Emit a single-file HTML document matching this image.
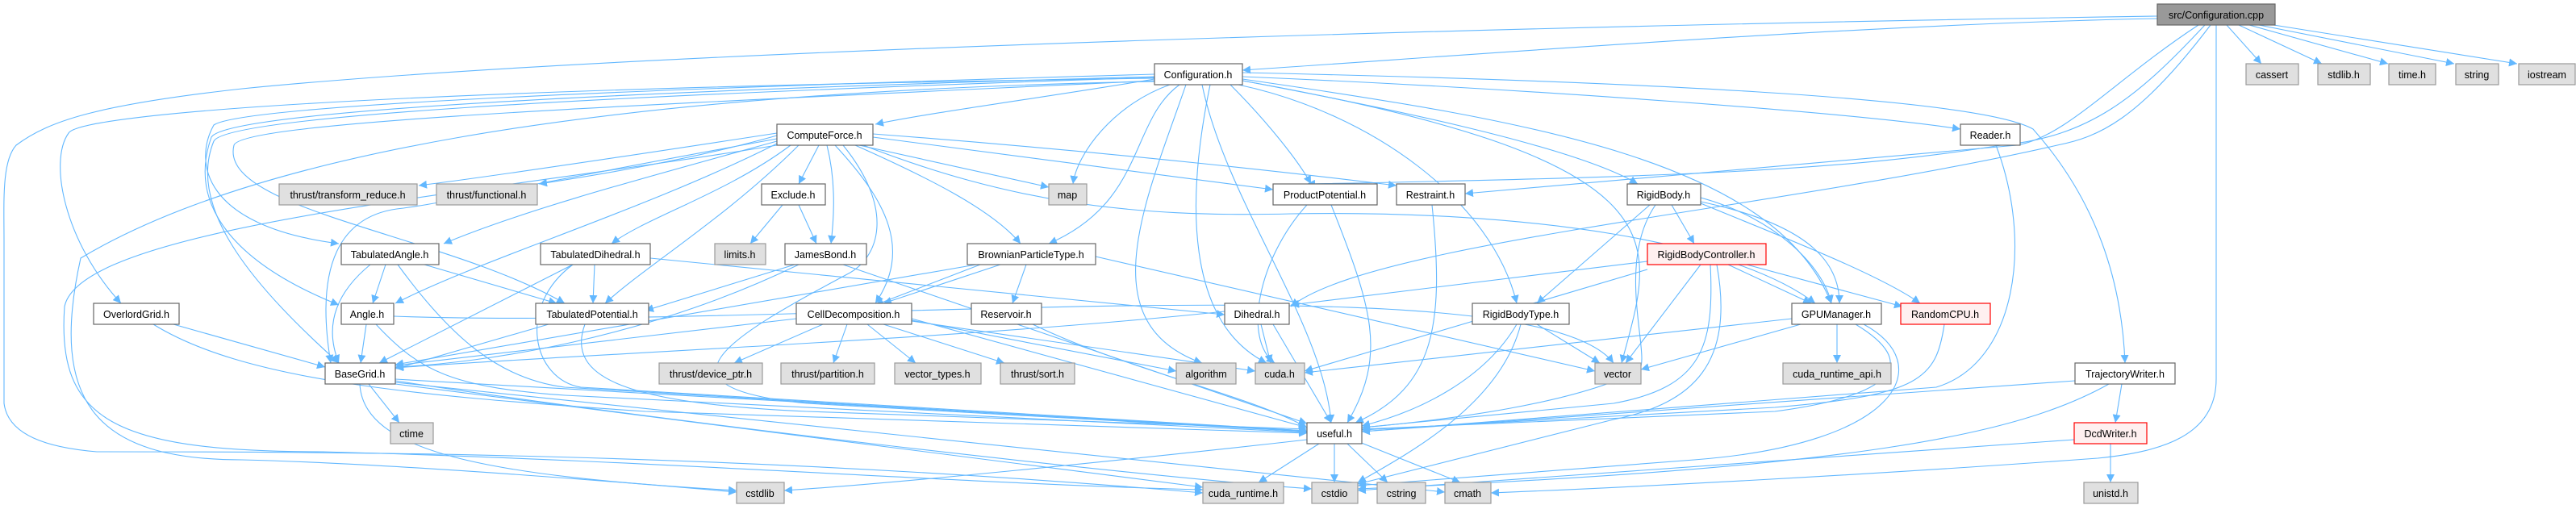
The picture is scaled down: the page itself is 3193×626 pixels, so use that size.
<!DOCTYPE html>
<html><head><meta charset="utf-8"><style>
html,body{margin:0;padding:0;background:#fff;}
svg{display:block;}
text{font-family:"Liberation Sans",sans-serif;font-size:12.5px;fill:#000;text-anchor:middle;}
.e path,path.e{fill:none;stroke:#63b8ff;stroke-width:1.1;}
.n{fill:#fff;stroke:#666;stroke-width:1.2;}
.g{fill:#e0e0e0;stroke:#999;stroke-width:1.2;}
.r{fill:#fff0f0;stroke:#ff0000;stroke-width:1.2;}
.c{fill:#999;stroke:#666;stroke-width:1.2;}
</style></head><body>
<svg width="3193" height="626" viewBox="0 0 3193 626" xmlns="http://www.w3.org/2000/svg">
<defs><marker id="a" viewBox="0 0 10 10" refX="10" refY="5" markerWidth="10" markerHeight="10" markerUnits="userSpaceOnUse" orient="auto"><path d="M0,0 L10,5 L0,10 z" fill="#63b8ff"/></marker></defs>
<g class="e" marker-end="url(#a)">
<!-- cpp -->
<path marker-end="url(#a)" d="M2760,31 L2803,79"/>
<path marker-end="url(#a)" d="M2775,31 L2878,79"/>
<path marker-end="url(#a)" d="M2788,31 L2960,79"/>
<path marker-end="url(#a)" d="M2800,31 L3042,79"/>
<path marker-end="url(#a)" d="M2812,30 L3120,79"/>
<path marker-end="url(#a)" d="M2674,23 C2300,30 1800,70 1540,87"/>
<path marker-end="url(#a)" d="M2747,31 L2747,470 C2747,540 2680,560 2600,568 C2300,590 2000,605 1848,611"/>
<path marker-end="url(#a)" d="M2725,31 C2620,100 2560,170 2500,180 L1816,240"/>
<path marker-end="url(#a)" d="M2733,31 C2650,120 2590,170 2480,180 C2300,210 2080,220 1620,228"/>
<path marker-end="url(#a)" d="M2740,31 C2650,150 2600,170 2550,180 C2200,260 1700,300 1600,380"/>
<path marker-end="url(#a)" d="M2674,20 C2000,30 800,60 300,110 C120,130 60,150 20,180 C2,200 5,250 5,300 L5,500 C10,540 60,555 120,560 C400,560 900,560 1491,611"/>
<!-- Configuration.h -->
<path marker-end="url(#a)" d="M1431,98 C1300,120 1150,140 1085,154"/>
<path marker-end="url(#a)" d="M1450,105 C1380,130 1335,190 1330,228"/>
<path marker-end="url(#a)" d="M1462,105 C1400,150 1420,250 1300,302"/>
<path marker-end="url(#a)" d="M1500,105 C1470,250 1470,400 1570,450"/>
<path marker-end="url(#a)" d="M1470,105 C1420,250 1350,400 1490,450"/>
<path marker-end="url(#a)" d="M1490,105 C1520,250 1640,400 1650,524"/>
<path marker-end="url(#a)" d="M1525,105 C1570,150 1610,200 1625,228"/>
<path marker-end="url(#a)" d="M1540,100 C1700,130 1950,180 2030,228"/>
<path marker-end="url(#a)" d="M1535,105 C1700,140 1850,250 1880,376"/>
<path marker-end="url(#a)" d="M1540,98 C1900,150 2200,200 2270,376"/>
<path marker-end="url(#a)" d="M1540,95 C1900,110 2300,140 2430,160"/>
<path marker-end="url(#a)" d="M1540,90 C2000,100 2450,120 2520,160 C2600,250 2630,350 2634,450"/>
<path marker-end="url(#a)" d="M1540,100 C2100,200 2050,300 2010,450"/>
<path marker-end="url(#a)" d="M1431,92 C800,110 300,130 265,155 C240,200 250,280 420,302"/>
<path marker-end="url(#a)" d="M1431,95 C700,115 280,140 262,170 C230,260 300,330 420,378"/>
<path marker-end="url(#a)" d="M1431,96 C700,120 280,145 265,175 C230,260 320,360 420,450"/>
<path marker-end="url(#a)" d="M1431,97 C500,110 100,140 85,165 C60,200 80,300 150,376"/>
<path marker-end="url(#a)" d="M1431,100 C800,130 300,150 290,180 C270,260 550,290 700,376"/>
<path marker-end="url(#a)" d="M1431,101 C700,115 300,200 100,320 C60,500 120,570 300,570 C500,575 800,600 913,610"/>
<!-- ComputeForce -->
<path marker-end="url(#a)" d="M963,165 C800,190 600,220 519,230"/>
<path marker-end="url(#a)" d="M963,168 C850,200 720,220 668,228"/>
<path marker-end="url(#a)" d="M1015,180 L990,228"/>
<path marker-end="url(#a)" d="M1025,180 C1035,220 1035,260 1030,302"/>
<path marker-end="url(#a)" d="M1065,180 L1300,232"/>
<path marker-end="url(#a)" d="M1082,170 L1578,235"/>
<path marker-end="url(#a)" d="M1082,166 C1400,190 1650,220 1731,230"/>
<path marker-end="url(#a)" d="M1060,180 C1150,220 1230,260 1265,302"/>
<path marker-end="url(#a)" d="M1035,180 C1100,250 1130,310 1085,376"/>
<path marker-end="url(#a)" d="M963,175 C800,220 650,260 550,302"/>
<path marker-end="url(#a)" d="M980,180 C900,240 800,270 758,302"/>
<path marker-end="url(#a)" d="M990,180 C900,270 800,330 750,376"/>
<path marker-end="url(#a)" d="M963,178 C800,260 600,320 490,376"/>
<path marker-end="url(#a)" d="M963,172 C700,220 560,250 500,258 C420,265 390,330 410,450"/>
<path marker-end="url(#a)" d="M1045,180 C1110,260 1090,320 1050,340 C900,420 800,480 1000,500 C1300,515 1500,530 1620,535"/>
<path marker-end="url(#a)" d="M1070,180 C1250,250 1400,270 1600,265 C1900,260 2150,300 2250,376"/>
<path marker-end="url(#a)" d="M963,180 C600,240 100,280 80,380 C70,520 140,560 400,560 C800,570 1200,600 1491,607"/>
<!-- row 3/4 -->
<path marker-end="url(#a)" d="M970,254 L930,302"/>
<path marker-end="url(#a)" d="M990,254 L1012,302"/>
<path marker-end="url(#a)" d="M478,328 L462,376"/>
<path marker-end="url(#a)" d="M459,328 C420,360 400,400 420,450"/>
<path marker-end="url(#a)" d="M526,328 L690,376"/>
<path marker-end="url(#a)" d="M493,328 C560,420 620,470 700,480 L1620,535"/>
<path marker-end="url(#a)" d="M737,328 L735,376"/>
<path marker-end="url(#a)" d="M710,328 L470,450"/>
<path marker-end="url(#a)" d="M710,328 C640,380 660,470 720,480 L1620,534"/>
<path marker-end="url(#a)" d="M806,320 L1518,390"/>
<path marker-end="url(#a)" d="M985,328 L800,385"/>
<path marker-end="url(#a)" d="M990,328 C800,420 600,450 490,455"/>
<path marker-end="url(#a)" d="M1045,328 L1620,525"/>
<path marker-end="url(#a)" d="M1240,328 L1095,376"/>
<path marker-end="url(#a)" d="M1215,328 L1085,378"/>
<path marker-end="url(#a)" d="M1272,328 L1255,376"/>
<path marker-end="url(#a)" d="M1358,318 L1977,460"/>
<path marker-end="url(#a)" d="M1210,328 L490,452"/>
<path marker-end="url(#a)" d="M1650,254 C1700,380 1720,440 1670,524"/>
<path marker-end="url(#a)" d="M1620,254 C1560,320 1540,420 1580,450"/>
<path marker-end="url(#a)" d="M1775,254 C1790,400 1780,480 1680,524"/>
<path marker-end="url(#a)" d="M2072,254 L2100,302"/>
<path marker-end="url(#a)" d="M2045,254 L1905,376"/>
<path marker-end="url(#a)" d="M2052,254 C2000,330 2050,450 2030,460 C1950,500 1800,520 1688,530"/>
<path marker-end="url(#a)" d="M2108,245 C2200,270 2260,330 2270,376"/>
<path marker-end="url(#a)" d="M2108,250 C2250,280 2280,330 2280,376"/>
<path marker-end="url(#a)" d="M2108,252 C2200,290 2330,340 2380,376"/>
<path marker-end="url(#a)" d="M2142,328 L2245,376"/>
<path marker-end="url(#a)" d="M2165,328 L2358,380"/>
<path marker-end="url(#a)" d="M2108,328 L2015,450"/>
<path marker-end="url(#a)" d="M2120,328 C2125,430 2110,480 2000,500 L1688,530"/>
<path marker-end="url(#a)" d="M2128,328 C2150,450 2100,500 2000,520 L1683,600"/>
<path marker-end="url(#a)" d="M2042,334 L1617,460"/>
<path marker-end="url(#a)" d="M2042,324 L1600,378"/>
<!-- row 5 -->
<path marker-end="url(#a)" d="M454,402 L447,450"/>
<path marker-end="url(#a)" d="M466,402 C520,460 560,480 700,490 L1620,536"/>
<path marker-end="url(#a)" d="M488,392 C1000,410 1900,320 2000,450"/>
<path marker-end="url(#a)" d="M215,402 L403,455"/>
<path marker-end="url(#a)" d="M190,402 C300,470 500,490 800,510 L1620,537"/>
<path marker-end="url(#a)" d="M680,402 L490,457"/>
<path marker-end="url(#a)" d="M725,402 C700,470 780,500 1000,510 L1620,532"/>
<path marker-end="url(#a)" d="M1020,402 L910,450"/>
<path marker-end="url(#a)" d="M1050,402 L1033,450"/>
<path marker-end="url(#a)" d="M1075,402 L1135,450"/>
<path marker-end="url(#a)" d="M1095,402 L1245,450"/>
<path marker-end="url(#a)" d="M1130,395 L1620,530"/>
<path marker-end="url(#a)" d="M1130,398 L1556,460"/>
<path marker-end="url(#a)" d="M1130,397 L1458,460"/>
<path marker-end="url(#a)" d="M987,395 L490,453"/>
<path marker-end="url(#a)" d="M1280,402 C1400,460 1550,490 1620,530"/>
<path marker-end="url(#a)" d="M1563,402 L1575,450"/>
<path marker-end="url(#a)" d="M1578,402 L1650,524"/>
<path marker-end="url(#a)" d="M1518,386 C1200,420 700,440 490,456"/>
<path marker-end="url(#a)" d="M1905,402 L1983,450"/>
<path marker-end="url(#a)" d="M1880,402 C1840,470 1760,510 1688,528"/>
<path marker-end="url(#a)" d="M1885,402 C1860,500 1750,560 1683,598"/>
<path marker-end="url(#a)" d="M2277,402 L2277,450"/>
<path marker-end="url(#a)" d="M2232,402 L2034,458"/>
<path marker-end="url(#a)" d="M2221,395 L1617,462"/>
<path marker-end="url(#a)" d="M2300,402 C2380,450 2350,490 2200,510 L1688,532"/>
<path marker-end="url(#a)" d="M2310,402 C2400,450 2360,550 2100,570 L1683,602"/>
<path marker-end="url(#a)" d="M2410,402 C2400,470 2380,490 2200,505 L1688,533"/>
<path marker-end="url(#a)" d="M2474,180 C2520,300 2500,450 2400,480 L1688,535"/>
<!-- row 6/7 -->
<path marker-end="url(#a)" d="M457,476 L495,524"/>
<path marker-end="url(#a)" d="M490,470 L1620,534"/>
<path marker-end="url(#a)" d="M490,472 C800,520 1400,590 1626,606"/>
<path marker-end="url(#a)" d="M490,474 L1791,610"/>
<path marker-end="url(#a)" d="M446,476 C450,560 600,590 913,608"/>
<path marker-end="url(#a)" d="M490,476 L1491,604"/>
<path marker-end="url(#a)" d="M2630,476 L2622,524"/>
<path marker-end="url(#a)" d="M2572,472 L1688,535"/>
<path marker-end="url(#a)" d="M2614,476 C2500,540 2300,580 1683,606"/>
<path marker-end="url(#a)" d="M2616,550 L2616,598"/>
<path marker-end="url(#a)" d="M2571,545 L1683,608"/>
<path marker-end="url(#a)" d="M1654,550 L1654,598"/>
<path marker-end="url(#a)" d="M1670,550 L1720,598"/>
<path marker-end="url(#a)" d="M1685,548 L1810,598"/>
<path marker-end="url(#a)" d="M1620,545 C1400,570 1100,600 972,608"/>
<path marker-end="url(#a)" d="M1635,550 L1560,598"/>
</g>
<!-- nodes -->
<g>
<rect class="c" x="2674" y="5" width="146" height="26"/><text x="2747" y="23">src/Configuration.cpp</text>
<rect class="g" x="2784" y="79" width="65" height="26"/><text x="2816" y="97">cassert</text>
<rect class="g" x="2873" y="79" width="65" height="26"/><text x="2905" y="97">stdlib.h</text>
<rect class="g" x="2961" y="79" width="58" height="26"/><text x="2990" y="97">time.h</text>
<rect class="g" x="3044" y="79" width="53" height="26"/><text x="3070" y="97">string</text>
<rect class="g" x="3122" y="79" width="70" height="26"/><text x="3157" y="97">iostream</text>
<rect class="n" x="1431" y="79" width="109" height="26"/><text x="1485" y="97">Configuration.h</text>
<rect class="n" x="963" y="154" width="119" height="26"/><text x="1022" y="172">ComputeForce.h</text>
<rect class="n" x="2430" y="154" width="74" height="26"/><text x="2467" y="172">Reader.h</text>
<rect class="g" x="346" y="228" width="171" height="26"/><text x="431" y="246">thrust/transform_reduce.h</text>
<rect class="g" x="541" y="228" width="125" height="26"/><text x="603" y="246">thrust/functional.h</text>
<rect class="n" x="944" y="228" width="79" height="26"/><text x="983" y="246">Exclude.h</text>
<rect class="g" x="1300" y="228" width="47" height="26"/><text x="1323" y="246">map</text>
<rect class="n" x="1578" y="228" width="129" height="26"/><text x="1642" y="246">ProductPotential.h</text>
<rect class="n" x="1731" y="228" width="85" height="26"/><text x="1773" y="246">Restraint.h</text>
<rect class="n" x="2017" y="228" width="91" height="26"/><text x="2062" y="246">RigidBody.h</text>
<rect class="n" x="423" y="302" width="121" height="26"/><text x="483" y="320">TabulatedAngle.h</text>
<rect class="n" x="670" y="302" width="136" height="26"/><text x="738" y="320">TabulatedDihedral.h</text>
<rect class="g" x="886" y="302" width="63" height="26"/><text x="917" y="320">limits.h</text>
<rect class="n" x="973" y="302" width="101" height="26"/><text x="1023" y="320">JamesBond.h</text>
<rect class="n" x="1199" y="302" width="159" height="26"/><text x="1278" y="320">BrownianParticleType.h</text>
<rect class="r" x="2042" y="302" width="147" height="26"/><text x="2115" y="320">RigidBodyController.h</text>
<rect class="n" x="116" y="376" width="106" height="26"/><text x="169" y="394">OverlordGrid.h</text>
<rect class="n" x="423" y="376" width="65" height="26"/><text x="455" y="394">Angle.h</text>
<rect class="n" x="664" y="376" width="140" height="26"/><text x="734" y="394">TabulatedPotential.h</text>
<rect class="n" x="987" y="376" width="143" height="26"/><text x="1058" y="394">CellDecomposition.h</text>
<rect class="n" x="1204" y="376" width="87" height="26"/><text x="1247" y="394">Reservoir.h</text>
<rect class="n" x="1518" y="376" width="80" height="26"/><text x="1558" y="394">Dihedral.h</text>
<rect class="n" x="1825" y="376" width="120" height="26"/><text x="1885" y="394">RigidBodyType.h</text>
<rect class="n" x="2221" y="376" width="111" height="26"/><text x="2276" y="394">GPUManager.h</text>
<rect class="r" x="2356" y="376" width="111" height="26"/><text x="2411" y="394">RandomCPU.h</text>
<rect class="n" x="403" y="450" width="87" height="26"/><text x="446" y="468">BaseGrid.h</text>
<rect class="g" x="817" y="450" width="128" height="26"/><text x="881" y="468">thrust/device_ptr.h</text>
<rect class="g" x="968" y="450" width="116" height="26"/><text x="1026" y="468">thrust/partition.h</text>
<rect class="g" x="1109" y="450" width="107" height="26"/><text x="1162" y="468">vector_types.h</text>
<rect class="g" x="1240" y="450" width="92" height="26"/><text x="1286" y="468">thrust/sort.h</text>
<rect class="g" x="1458" y="450" width="74" height="26"/><text x="1495" y="468">algorithm</text>
<rect class="g" x="1556" y="450" width="61" height="26"/><text x="1586" y="468">cuda.h</text>
<rect class="g" x="1977" y="450" width="57" height="26"/><text x="2005" y="468">vector</text>
<rect class="g" x="2210" y="450" width="134" height="26"/><text x="2277" y="468">cuda_runtime_api.h</text>
<rect class="n" x="2572" y="450" width="124" height="26"/><text x="2634" y="468">TrajectoryWriter.h</text>
<rect class="g" x="484" y="524" width="53" height="26"/><text x="510" y="542">ctime</text>
<rect class="n" x="1620" y="524" width="68" height="26"/><text x="1654" y="542">useful.h</text>
<rect class="r" x="2571" y="524" width="90" height="26"/><text x="2616" y="542">DcdWriter.h</text>
<rect class="g" x="913" y="598" width="59" height="26"/><text x="942" y="616">cstdlib</text>
<rect class="g" x="1491" y="598" width="100" height="26"/><text x="1541" y="616">cuda_runtime.h</text>
<rect class="g" x="1626" y="598" width="57" height="26"/><text x="1654" y="616">cstdio</text>
<rect class="g" x="1707" y="598" width="60" height="26"/><text x="1737" y="616">cstring</text>
<rect class="g" x="1791" y="598" width="57" height="26"/><text x="1819" y="616">cmath</text>
<rect class="g" x="2583" y="598" width="67" height="26"/><text x="2616" y="616">unistd.h</text>
</g>
</svg>
</body></html>
